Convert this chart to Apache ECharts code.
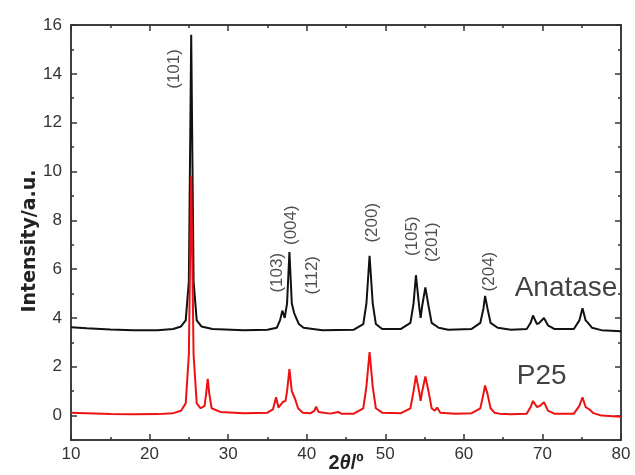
<!DOCTYPE html>
<html>
<head>
<meta charset="utf-8">
<script src="https://cdn.jsdelivr.net/npm/echarts@6/dist/echarts.min.js"></script>
<style>html,body{margin:0;padding:0;background:#fff}#c{width:635px;height:475px}</style>
</head>
<body>
<div id="c"></div>
<script>
// Anatase (black) pattern: [2theta, intensity]
var anataseData = [
 [10,3.62],[12,3.58],[15,3.53],[18,3.5],[21,3.5],[23,3.55],[24,3.65],[24.6,3.9],[25.0,5.5],[25.3,15.6],[25.6,5.5],[26.0,3.9],[26.6,3.65],
 [28,3.55],[32,3.5],[35,3.52],[36.2,3.6],[36.6,3.9],[36.9,4.3],[37.2,4.0],[37.5,4.6],[37.8,6.7],[38.1,4.6],[38.4,4.2],[38.6,4.2],[39,3.75],[39.6,3.6],
 [42,3.5],[46,3.52],[47.2,3.75],[47.6,4.6],[48.0,6.55],[48.4,4.6],[48.8,3.75],[49.6,3.55],
 [52,3.55],[53.2,3.8],[53.6,4.6],[53.9,5.75],[54.3,4.5],[54.5,4.0],[54.7,4.5],[55.1,5.25],[55.5,4.5],[55.9,3.8],[56.8,3.6],
 [58,3.52],[61,3.55],[62.1,3.8],[62.5,4.4],[62.7,4.9],[63.0,4.4],[63.4,3.8],[64.3,3.6],
 [66,3.52],[68,3.55],[68.5,3.8],[68.8,4.1],[69.3,3.75],[69.6,3.8],[70.2,4.0],[70.7,3.7],[71.5,3.55],
 [74,3.55],[74.7,3.9],[75.1,4.4],[75.5,3.9],[75.8,3.8],[76.3,3.6],[77.5,3.5],[80,3.45]
];
// P25 (red) pattern
var p25Data = [
 [10,0.12],[12,0.1],[15,0.06],[18,0.05],[21,0.06],[23,0.1],[24,0.2],[24.6,0.5],[25.0,2.5],[25.3,9.8],[25.6,2.5],[26.0,0.5],[26.5,0.3],
 [27.0,0.4],[27.2,0.9],[27.4,1.5],[27.6,0.9],[27.9,0.3],[29,0.15],[32,0.1],[35,0.12],[35.7,0.25],[36.1,0.75],[36.4,0.33],[36.7,0.45],[37.0,0.57],
 [37.3,0.6],[37.5,1.0],[37.8,1.9],[38.1,1.0],[38.5,0.7],[38.9,0.3],[39.5,0.12],[40.5,0.1],[41.0,0.2],[41.2,0.37],[41.5,0.15],
 [43,0.08],[44,0.15],[44.4,0.08],[46,0.08],[47.2,0.3],[47.6,1.2],[48.0,2.6],[48.4,1.2],[48.8,0.3],[49.6,0.12],
 [52,0.1],[53.2,0.3],[53.6,1.0],[53.9,1.64],[54.3,1.0],[54.5,0.6],[54.7,1.0],[55.1,1.6],[55.5,1.0],[55.9,0.3],[56.3,0.2],[56.6,0.33],[57.0,0.12],
 [59,0.08],[61,0.1],[62.1,0.3],[62.5,0.9],[62.7,1.23],[63.0,0.9],[63.4,0.3],[63.9,0.12],[64.1,0.18],[64.5,0.08],
 [66,0.05],[68,0.08],[68.5,0.35],[68.8,0.6],[69.3,0.35],[69.7,0.4],[70.2,0.55],[70.7,0.2],[71.5,0.08],
 [74,0.08],[74.7,0.4],[75.1,0.75],[75.5,0.35],[76.0,0.25],[76.5,0.1],[77.5,0.0],[80,-0.05]
];
// peak index labels: [name, 2theta, intensity at label centre]
var peakLabels = [
 ['(101)',23.2,14.2],['(103)',36.2,5.85],['(004)',38.1,7.8],['(112)',40.7,5.75],['(200)',48.3,7.9],
 ['(105)',53.5,7.35],['(201)',56.0,7.1],['(204)',63.3,5.9]
];
var seriesNames = ['Anatase','P25'];
var seriesNamePos = [[73.0,5.2],[69.9,1.6]];
var yEvenTicks = [0,2,4,6,8,10,12,14,16];
var yOddTicks = [-1,1,3,5,7,9,11,13,15];
var xMajorTicks = [10,20,30,40,50,60,70,80];
var xMinorTicks = [15,25,35,45,55,65,75];

var axisColor = '#333';
var FONT = 'Liberation Sans, Arial';
var chart = echarts.init(document.getElementById('c'), null, {renderer:'canvas'});
function yAx(pos, vals, len, labels, extra){
  var o = {type:'value', position:pos, min:-1, max:16, gridIndex:0,
    axisLine:{show:true, onZero:false, lineStyle:{color:axisColor, width:1.5}},
    axisTick:{show:true, inside:true, length:len, customValues:vals, lineStyle:{color:axisColor, width:1.5}},
    axisLabel:{show:labels, customValues:yEvenTicks, color:'#333', fontSize:17, fontFamily:FONT, margin:9},
    splitLine:{show:false}};
  if (extra) for (var k in extra) o[k]=extra[k];
  return o;
}
function xAx(pos, vals, len, labels, extra){
  var o = {type:'value', position:pos, min:10, max:80, gridIndex:0,
    axisLine:{show:true, onZero:false, lineStyle:{color:axisColor, width:1.5}},
    axisTick:{show:true, inside:true, length:len, customValues:vals, lineStyle:{color:axisColor, width:1.5}},
    axisLabel:{show:labels, customValues:xMajorTicks, color:'#333', fontSize:17, fontFamily:FONT, margin:6},
    splitLine:{show:false}};
  if (extra) for (var k in extra) o[k]=extra[k];
  return o;
}
var labelPoints = peakLabels.map(function(p){
  return {value:[p[1],p[2]], name:p[0],
    label:{show:true, formatter:p[0], rotate:90, position:'inside', color:'#222', fontSize:17, fontFamily:FONT}};
}).concat(seriesNames.map(function(n,i){
  return {value:seriesNamePos[i], name:n,
    label:{show:true, formatter:n, position:'inside', color:'#111', fontSize:28, fontFamily:FONT}};
}));
chart.setOption({
  animation:false,
  grid:{left:71, right:14, top:25, bottom:35, containLabel:false, outerBoundsMode:'none'},
  xAxis:[
    xAx('bottom', xMajorTicks, 6, true, {name:'{b|2}{i|θ}{b|/º}', nameLocation:'middle', nameGap:13, nameMoveOverlap:false,
      nameTextStyle:{rich:{b:{fontSize:20, fontWeight:'bold', color:'#222', fontFamily:FONT},
                           i:{fontSize:20, fontWeight:'bold', fontStyle:'italic', color:'#222', fontFamily:FONT}}}}),
    xAx('bottom', xMinorTicks, 3, false),
    xAx('top', xMajorTicks, 6, false),
    xAx('top', xMinorTicks, 3, false)
  ],
  yAxis:[
    yAx('left', yEvenTicks, 6, true, {name:'Intensity/a.u.', nameLocation:'middle', nameGap:31, nameMoveOverlap:false,
      nameTextStyle:{fontSize:19, fontWeight:'bold', color:'#222', fontFamily:'DejaVu Sans', padding:[0,17,0,0]}}),
    yAx('left', yOddTicks, 3, false),
    yAx('right', yEvenTicks, 6, false),
    yAx('right', yOddTicks, 3, false)
  ],
  series:[
    {type:'line', name:seriesNames[0], data:anataseData, xAxisIndex:0, yAxisIndex:0, showSymbol:false, symbol:'none',
     lineStyle:{color:'#111', width:2}, itemStyle:{color:'#111'}},
    {type:'line', name:seriesNames[1], data:p25Data, xAxisIndex:0, yAxisIndex:0, showSymbol:false, symbol:'none',
     lineStyle:{color:'#ee1111', width:2}, itemStyle:{color:'#ee1111'}},
    {type:'scatter', name:'labels', data:labelPoints, xAxisIndex:0, yAxisIndex:0, symbol:'circle', symbolSize:1,
     itemStyle:{color:'rgba(0,0,0,0)'}, silent:true, z:5}
  ]
});
</script>
</body>
</html>
